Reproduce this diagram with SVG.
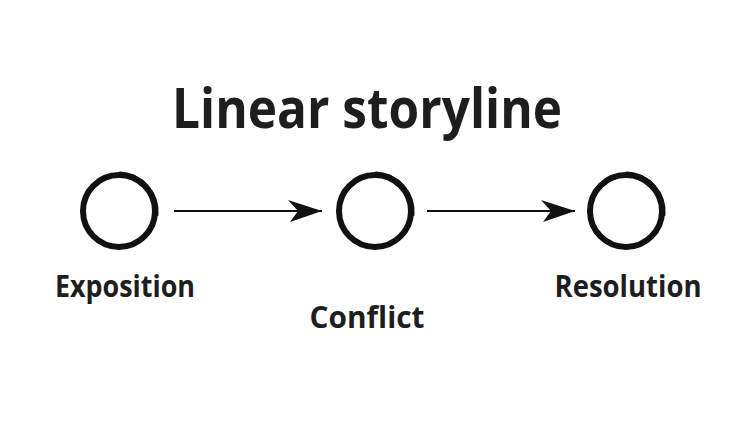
<svg xmlns="http://www.w3.org/2000/svg" width="750" height="435" viewBox="0 0 750 435">
<style>
.t{font-family:"Open Sans","Liberation Sans",sans-serif;font-weight:bold;fill:#1e1e1e}
.ring{fill:none;stroke:#111;stroke-width:6}
.ink{fill:none;stroke:#111;stroke-width:3;stroke-linecap:round}
.conn{stroke:#111;stroke-width:2;fill:none}
</style>
<defs>
<marker id="ah" viewBox="0 0 34 24" refX="34" refY="12" markerWidth="34" markerHeight="24" markerUnits="userSpaceOnUse" orient="auto">
<path d="M0,1 L34,12 L2,23 L10,12 Z" fill="#111"/>
</marker>
</defs>
<rect width="750" height="435" fill="#fff"/>
<text class="t" x="367" y="128" font-size="56" text-anchor="middle" textLength="390" lengthAdjust="spacingAndGlyphs">Linear storyline</text>
<g id="connectors">
<line class="conn" x1="174" y1="211" x2="322" y2="211" marker-end="url(#ah)"/>
<line class="conn" x1="427" y1="211" x2="575" y2="211" marker-end="url(#ah)"/>
</g>
<g id="exposition">
<circle class="ring" cx="119" cy="211" r="36"/>
<path class="ink" d="M120,173 A39,39 0 0 1 157,215"/>
<text class="t" x="125" y="297" font-size="30" text-anchor="middle" textLength="140" lengthAdjust="spacingAndGlyphs">Exposition</text>
</g>
<g id="conflict">
<circle class="ring" cx="375" cy="211" r="36"/>
<path class="ink" d="M376,173 A39,39 0 0 1 413,215"/>
<text class="t" x="367" y="328" font-size="30" text-anchor="middle" textLength="115" lengthAdjust="spacingAndGlyphs">Conflict</text>
</g>
<g id="resolution">
<circle class="ring" cx="626" cy="211" r="36"/>
<path class="ink" d="M627,173 A39,39 0 0 1 664,215"/>
<text class="t" x="628" y="297" font-size="30" text-anchor="middle" textLength="147" lengthAdjust="spacingAndGlyphs">Resolution</text>
</g>
</svg>
